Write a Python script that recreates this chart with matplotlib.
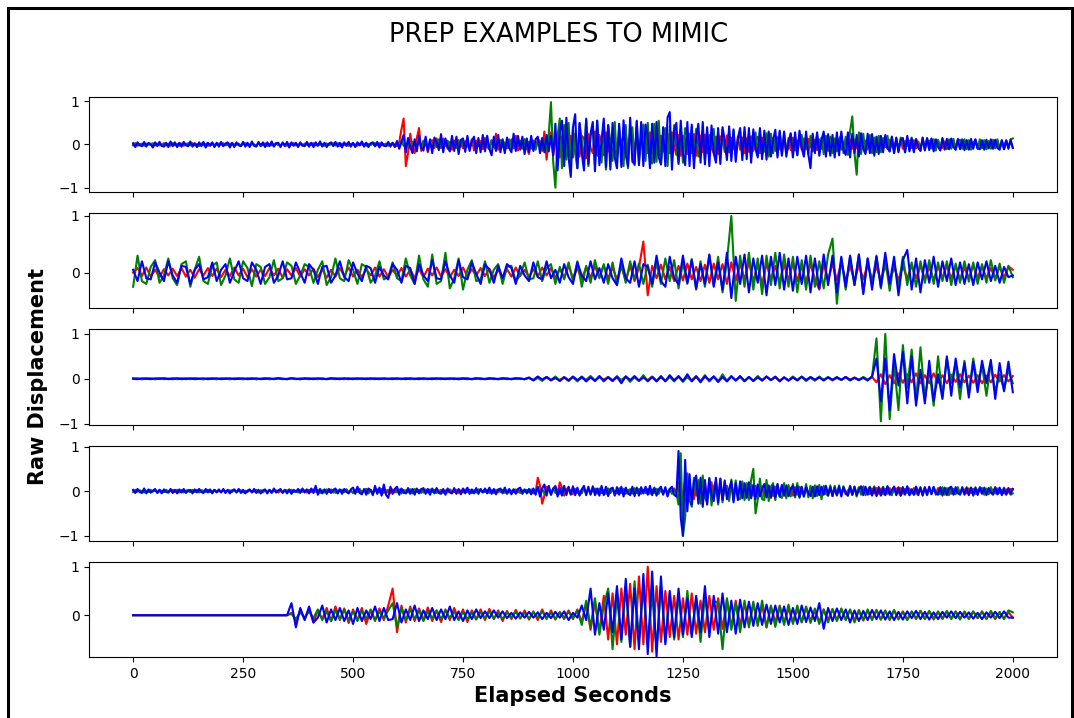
import numpy as np
import matplotlib
matplotlib.use("Agg")
import matplotlib.pyplot as plt
from matplotlib.patches import Rectangle

title = "PREP EXAMPLES TO MIMIC"
xlabel = "Elapsed Seconds"
ylabel = "Raw Displacement"
colors = ["red", "green", "blue"]
xticks = [0, 250, 500, 750, 1000, 1250, 1500, 1750, 2000]
# sampling interval (s) of each panel's readings
steps = [5, 10, 10, 5, 10]

# values in hundredths of displacement units, 0..2000 s
r1 = """0 2 -3 1 -1 3 -2 0 2 -3 1 2 -2 -1 3 -2 1 -3 2 0
-2 3 1 -3 2 -1 0 3 -2 1 -3 2 2 -1 -3 1 3 -2 0 2
-1 3 -2 -1 2 1 -3 2 0 -2 3 -1 2 -3 1 0 -2 3 -1 2
2 -3 1 -2 0 3 -1 -2 2 1 -3 2 -1 3 -2 0 1 -3 2 -1
-2 1 3 -2 -1 2 -3 1 2 -1 0 3 -2 1 -3 2 -1 2 -3 1
2 -1 -3 2 1 -2 3 -1 0 2 -3 1 3 -2 -1 2 -3 1 2 -4
-3 5 35 60 -50 -20 25 -10 -20 15 38 -15 5 12 -18 8 10 -8 14 -6
-8 14 3 -10 6 -12 9 2 -7 11 -9 8 -3 -10 12 -14 9 -4 8 -11
15 -6 -11 10 -5 25 -12 8 10 -15 6 -8 12 -9 20 -14 5 -10 12 -8
-22 14 -5 -9 12 8 -15 30 -35 12 28 -25 10 22 -30 18 -12 25 -28 20
-30 25 -10 -28 20 15 -32 24 -8 -20 30 -26 22 5 -25 28 -12 -22 30 -15
-24 20 8 -28 26 -20 12 24 -26 22 -30 18 -10 25 -20 28 -24 -8 22 -26
20 -12 -22 25 -20 28 -6 -24 22 -26 20 10 -22 25 -20 24 -26 8 21 -18
23 -20 22 -8 -20 18 -22 19 12 -17 21 -18 16 -5 -20 18 -12 16 -20 14
-17 19 -15 8 18 -20 16 -14 18 -6 -16 15 -15 17 -10 -14 16 -18 15 -13
16 -14 6 15 -12 14 -11 13 -4 -12 11 -13 12 -10 12 8 -11 12 -10 13
-11 10 -12 4 11 -10 12 -10 11 -9 12 -5 -10 9 -11 10 -9 11 -3 -8
10 -9 8 -10 11 -4 -9 10 -8 9 -10 8 -3 9 -8 10 -9 7 -8 9
-8 7 9 -9 8 -7 9 -3 -8 7 -9 8 -7 10 -8 6 -9 8 -7 9
-8 7 -5 8 -9 7 -6 8 -7 5 -8 9 -6 7 -8 6 -7 8 -5 7
-8"""
g1 = """-2 3 -1 0 2 -3 2 1 -1 3 -2 0 1 -3 2 -2 2 -1 3 -2
1 -3 2 0 -1 3 -2 2 1 -1 -3 2 -2 1 3 -2 0 -1 2 1
3 -2 1 -1 -3 2 0 -1 2 -3 1 3 -2 0 2 -1 -3 2 1 -2
2 -3 0 1 -2 3 -1 -2 2 0 1 -3 2 -1 2 -2 1 0 -3 2
2 -1 -2 3 -2 0 1 -3 2 -1 2 1 -2 3 -1 -2 2 -3 1 0
1 -2 3 -1 0 2 -3 1 -1 2 3 -2 -1 2 1 -3 2 -1 3 -1
2 -6 8 -3 -5 7 -9 6 2 -4 8 -6 9 -2 -7 5 -10 8 -6 12
-8 6 -3 9 -7 12 -6 -8 10 -5 7 -11 9 -6 3 8 -10 7 -9 12
-8 6 -10 9 -4 -12 8 10 -7 5 -9 12 -6 8 -10 4 9 -8 12 -10
6 -10 9 -12 8 4 -9 10 -15 25 98 -40 -100 20 60 -55 45 -35 50 -45
38 -20 -55 48 10 -40 60 -50 20 42 -48 55 -15 -42 50 -58 44 8 -38 52
-46 40 -20 -50 45 -55 30 40 -48 52 -42 10 46 -38 50 -25 -44 48 -40 55
-46 20 38 -50 42 -36 45 -10 -40 35 -42 38 20 -30 40 -34 36 -28 -10 32
-35 30 -28 15 36 -32 26 -30 34 -12 -25 30 -28 32 -26 10 30 -24 28 -22
25 -30 8 28 -26 30 -22 -15 26 -28 25 -20 12 -24 28 -22 26 -18 -8 24
-22 20 -24 12 22 -20 18 -22 20 -16 -6 22 -18 16 -22 20 -15 18 -20 14
-16 12 22 -20 18 -24 30 65 -20 -70 28 -22 25 -18 -6 22 -20 16 -18 20
-18 15 -6 20 -16 18 -20 14 -15 16 8 -18 14 -12 16 -15 13 -4 -14 15
-12 14 -13 10 12 -14 11 -12 13 -5 -11 12 -10 13 -12 9 11 -10 12 -11
10 -12 4 11 -10 12 -9 10 -11 8 -10 11 -9 12 -10 9 -11 10 -8 12
14"""
b1 = """3 -6 5 -2 -4 6 -5 4 0 -7 5 -4 6 -3 -5 4 -6 7 -4 5
-6 4 -5 6 -2 -4 7 -5 3 -6 5 -4 6 -7 4 -3 5 -6 4 -5
6 -4 2 5 -7 4 -6 5 -2 -4 6 -5 4 -6 7 -3 -5 6 -4 5
-6 5 -4 7 -5 2 4 -6 5 -4 6 -7 5 -3 4 -6 5 -2 -4 6
-5 4 -6 5 -3 7 -5 4 -6 2 5 -4 6 -5 4 -7 5 -3 6 -5
4 -6 5 -2 7 -5 4 -6 3 5 -4 6 -7 5 -3 -4 6 -5 4 -6
8 -10 6 22 -18 15 -5 -20 12 -16 20 -8 -14 18 -15 12 -20 16 5 -13
24 -18 14 -6 -16 20 -15 18 -22 10 14 -17 20 -15 8 18 -20 15 -18 22
-16 20 -10 -25 18 -15 22 -18 12 -20 16 -8 -18 25 -15 20 -12 18 -22 14
-17 20 -15 12 18 -20 15 -18 22 -16 20 -25 48 -60 30 55 -50 62 -30 -75
40 70 -55 50 -20 -60 58 -45 25 52 -62 55 -48 10 60 -52 45 -58 50 -30
-55 48 -52 56 -25 -50 62 -40 -45 55 -48 52 -50 46 20 -55 48 -42 52 -30
-46 40 -50 62 75 -58 30 50 -45 55 -20 -48 52 -50 46 -55 15 48 -42 52
-46 40 -50 44 -20 -42 38 -45 40 10 -36 42 -38 35 -40 15 38 -36 40 -34
38 -42 35 -10 -30 38 -34 32 -35 30 -28 10 34 -30 32 -26 30 -28 5 26
-30 28 -25 32 -8 -28 30 -22 -55 25 -20 28 -26 10 30 -28 24 -26 22 -30
28 -25 30 -12 -24 28 -30 25 -20 22 -28 26 -10 -22 25 -20 24 -26 18 -22
20 -18 22 -8 -16 18 -20 16 -18 10 15 -18 20 -16 14 -18 12 -8 -15 16
-14 15 -12 14 -16 12 -5 -14 15 -12 13 -11 14 -6 -12 13 -11 12 -13 10
-12 13 -10 12 -9 -11 10 -12 11 -9 12 -10 11 -8 -12 10 -11 9 -10 11
-8"""

r2 = """0 8 -6 9 -7 5 -8 6 -5 7  -6 8 -7 5 -9 6 -5 8 -6 7  -8 5 -6 9 -5 7 -8 6 -7 5
-6 8 -5 7 -9 6 -5 8 -7 6  -5 7 -8 6 -9 5 -7 8 -6 9  -7 5 -8 6 -5 9 -7 6 -8 5
-6 8 -7 5 -9 6 -8 7 -5 9  -7 6 -8 5 -6 9 -7 6 -5 8  -6 7 -9 5 -8 6 -7 9 -6 5
-8 6 -7 9 -5 8 -10 7 -9 12  -10 8 -12 10 -9 11 -8 12 -10 9  -12 10 -14 12 -15 9 55 -40 12 -10
14 -12 10 -15 12 -14 16 -12 10 -15  14 -18 16 -12 15 -20 18 -14 16 -12  18 -15 14 -20 16 -13 12 -18 15 -14
17 -15 13 -18 16 -12 -30 15 -14 16  -13 18 -15 12 -16 14 -12 15 -13 11  -14 12 -15 10 -13 12 -11 14 -10 12
-12 10 -13 11 -9 12 -10 11 -12 9  -10 12 -9 11 -10 8 -11 10 -9 11  5"""
g2 = """-25 30 -15 -20 10 22 -18 -5 25 -10  -22 15 20 -25 5 28 -15 -20 12 18  -22 -5 25 -12 -18 20 8 -24 15 10
-20 -8 22 -15 -10 18 12 -20 -5 15  10 -18 5 20 -22 -8 25 -10 -15 22  5 -20 15 10 -18 -6 20 -12 -8 18
-10 -15 25 -5 -20 30 -12 -25 32 -20  -15 35 -28 -10 25 -30 5 22 -15 -12  20 -18 5 15 -20 10 12 -15 -5 18
-12 -10 20 -15 8 15 -20 10 -12 18  -15 20 -25 12 -18 22 -10 15 -20 18  -22 15 -18 20 -12 16 -20 14 -25 18
-20 25 -15 22 -28 18 -20 24 -30 20  -25 30 -22 28 -35 20 100 -50 30 -25  35 -30 25 -38 30 -22 35 -28 32 -25
28 -35 22 -30 30 -25 20 -28 32 60  -55 25 -30 28 -22 32 -35 25 -20 30  -28 25 -32 20 -25 28 -22 18 -25 20
-18 22 -20 18 -15 20 -22 16 -18 20  -16 18 -20 15 -18 22 -14 16 -18 12  -8"""
b2 = """5 -15 20 -10 -12 18 0 -15 20 -5  -18 12 10 -20 5 15 -12 -8 18 -15  5 15 -18 2 20 -10 -15 18 5 -20
10 15 -18 -5 20 -12 -10 18 0 -18  15 5 -20 10 12 -18 -5 20 -8 -15  18 -2 -15 12 8 -18 10 -5 -12 15
5 -18 12 8 -20 15 -5 -15 22 -10  -12 20 -5 -18 22 -8 -12 18 -2 -20  15 5 -18 12 -10 15 8 -20 12 -5
-15 18 -8 -12 20 -10 5 -18 15 -8  -20 18 -5 -15 20 -12 8 -18 15 -10  -22 25 -10 -18 20 -25 15 10 -20 30
-15 -25 28 -10 -20 30 -18 22 -28 15  -20 32 -25 18 -30 35 -45 28 -20 32  -35 25 -18 30 -40 28 -22 35 -30 25
-32 28 -20 30 -35 25 -28 32 -22 30  -35 28 -25 30 -22 32 -38 25 -30 28  -25 35 -20 28 -40 22 40 -30 25 -35
22 -18 28 -25 20 -15 25 -22 18 -20  15 -22 18 -12 20 -15 12 -18 10 -8  -5"""

r3 = """0 1 -1 0 1 -1 0 1 0 -1  0 1 -1 0 1 0 -1 1 0 -1  1 0 -1 1 0 -1 0 1 -1 0
1 -1 0 1 0 -1 1 0 -1 0  1 0 -1 1 -1 0 1 0 -1 1  0 -1 1 0 -1 1 0 -1 0 1
-1 0 1 -1 0 1 0 -1 1 0  -1 1 0 -1 1 0 -1 0 1 -1  0 1 -1 0 1 -1 0 1 0 -1
2 -3 4 -2 3 -4 2 -3 4 -3  3 -4 2 -3 5 -4 3 -2 4 -3  4 -3 5 -4 3 -5 4 -3 5 -4
3 -4 5 -3 4 -5 3 -4 6 -5  4 -3 5 -4 3 -4 5 -3 4 -5  3 -4 5 -3 4 -3 5 -4 3 -4
3 -2 4 -3 2 -4 3 -2 3 -4  2 -3 4 -2 3 -2 3 -2 4 -8  10 -12 8 -10 12 -9 10 -8 12 -10
8 -10 12 -9 8 -10 9 -7 10 -8  7 -9 8 -10 7 -8 9 -6 8 -6  6"""
g3 = """1 0 -1 1 0 -1 1 -1 0 1  -1 0 1 -1 1 0 -1 0 1 -1  0 1 -1 0 1 -1 1 0 -1 0
1 -1 0 1 -1 0 1 -1 1 0  -1 1 0 -1 0 1 -1 1 0 -1  1 0 -1 1 0 -1 1 0 -1 1
0 -1 1 0 -1 1 -1 0 1 -1  1 0 -1 1 -1 0 1 -1 0 1  -1 0 1 -1 0 1 -1 0 1 -1
3 -4 2 -5 4 -3 5 -4 3 -5  4 -6 5 -3 6 -4 5 -6 4 -5  6 -4 5 -7 4 -5 8 -6 4 -5
6 -5 4 -6 5 -7 6 -4 5 -6  8 -6 5 -7 10 -5 6 -4 5 -6  4 -5 6 -4 5 -3 4 -5 3 -4
5 -3 4 -5 3 -4 5 -3 4 -3  4 -3 3 -4 2 -3 4 -3 5 90  -95 100 -90 35 -70 75 -20 65 -50 70
-45 20 -60 50 -40 45 -10 35 -45 40  -35 45 -15 30 -38 35 -30 10 -25 20  -10"""
b3 = """0 -1 1 0 -1 1 0 1 -1 0  1 -1 0 1 -1 0 1 -1 0 1  -1 0 1 -1 0 1 -1 0 1 -1
0 1 -1 1 0 -1 1 0 -1 1  0 -1 1 0 -1 1 0 -1 1 0  -1 1 0 -1 1 0 -1 1 0 -1
1 0 -1 1 0 -1 1 0 -1 1  0 -1 1 0 -1 1 0 -1 1 0  -1 1 0 -1 1 0 -1 1 0 -1
2 -3 5 -2 4 -3 2 -5 3 -4  5 -3 4 -6 3 -5 6 -4 3 -5  4 -10 5 -3 6 -4 3 -5 4 -6
5 -6 8 -4 6 -5 10 -6 5 -8  6 -4 5 -7 4 -6 5 -4 6 -5  4 -5 3 -4 5 -3 4 -6 3 -4
3 -4 5 -3 4 -2 3 -4 3 -2  3 -2 4 -3 2 -3 2 -4 5 45  -50 45 -70 55 -15 60 -55 50 -60 20
-55 40 -50 10 -45 50 -38 45 -20 35  -42 38 -30 40 -10 42 -45 35 -28 38  -30"""

r4 = """2 -3 1 0 -2 3 -1 2 -3 1 2 -2 3 -1 -2 2 -3 1 3 -2
1 -3 2 -1 0 3 -2 1 -2 3 -1 2 -3 1 2 -2 -1 3 -2 1
-2 3 -1 2 -3 0 1 -2 3 -1 2 -3 1 2 -2 -1 3 -2 1 -3
2 -1 3 -2 0 2 -3 1 -1 3 -2 2 -3 1 0 -2 3 -1 2 -3
3 -2 4 -1 -3 2 -4 3 1 -2 4 -3 2 -4 3 0 -2 4 -3 2
-4 3 -2 4 -3 1 5 -4 3 -5 2 4 -3 5 -4 1 3 -5 4 -3
4 -3 5 -4 2 -3 4 -5 3 1 -4 5 -3 4 -2 -3 4 -3 5 -4
3 -4 2 -3 4 0 -2 3 -4 2 -3 4 -2 3 -4 1 2 -3 4 -2
4 -3 1 2 -4 3 -2 4 -3 2 -4 3 0 -2 4 -3 2 -4 3 -2
3 -5 4 -3 30 12 -28 -10 10 5 -8 6 12 -6 20 8 -10 4 8 -6
-6 5 -3 -7 4 6 -6 5 -4 2 6 -5 4 -3 -5 4 6 -4 5 -3
-5 6 -4 2 5 -6 4 -5 6 -2 -4 5 -3 6 -5 4 -2 -4 5 -3
6 -5 4 -6 5 -2 6 -4 20 -30 -10 25 -20 15 -5 -18 20 -15 18 -22
16 -14 5 20 -18 15 -16 14 -18 6 12 -15 16 -12 14 -10 8 12 -14 10
-12 14 -10 12 -9 5 11 -13 10 -12 9 -11 10 -4 -8 12 -10 9 -11 8
-10 9 -8 10 -4 -7 9 -8 7 -9 8 -7 3 8 -7 9 -6 8 -7 6
-8 7 -6 8 -7 2 6 -8 7 -6 8 -5 7 -6 3 -7 6 -5 7 -6
6 -7 5 -6 7 -5 2 6 -5 7 -6 5 -4 6 -5 7 -6 3 5 -6
7 -5 6 -4 5 -6 7 -3 -5 6 -5 4 -6 5 -4 6 -5 2 4 -5
6 -4 5 -6 3 5 -5 4 -6 5 -3 4 -5 6 -4 3 -5 4 -3 5
4"""
g4 = """-2 3 -1 2 0 -3 1 -2 3 -1 2 -3 0 1 -2 3 -1 2 -3 1
3 -1 2 -3 1 0 -2 3 -1 2 -3 2 1 -2 3 -1 0 2 -3 1
-1 2 -3 1 2 -2 3 -1 0 2 -3 1 -2 3 -1 2 0 -3 2 -1
2 -3 1 -1 3 -2 2 0 -3 1 2 -1 3 -2 1 -3 2 -1 0 2
-3 4 -2 1 3 -4 2 -3 4 -1 -2 3 -4 2 0 3 -2 4 -3 1
-4 3 -2 5 -3 1 4 -5 3 -4 2 -2 3 -4 5 -1 -3 4 -2 3
-3 4 -5 3 -1 -2 4 -3 5 -2 3 -4 2 1 -3 4 -2 3 -4 2
-4 2 -3 4 0 -2 3 -4 2 -3 4 -1 -2 3 -4 2 -3 4 1 -2
-2 3 -4 2 -3 1 4 -2 3 -4 2 -3 0 4 -2 3 -4 2 -1 3
-3 4 -5 2 6 -4 5 -6 1 4 -5 6 -4 3 -6 5 2 -5 6 -4
5 -6 4 -2 -5 6 -4 5 -6 3 4 -5 6 -4 2 -6 5 -4 6 -3
-5 6 -4 5 -6 2 4 -5 6 -4 5 -6 3 -4 5 -6 4 -2 5 -6
4 -5 6 -4 5 -6 3 -4 -30 85 -100 -60 40 -20 -35 30 -10 25 -28 35
-15 -25 30 -32 10 22 -30 28 -25 20 -8 -22 26 -20 24 -15 -18 22 -20 18
-20 25 50 -50 -20 28 -18 -20 25 -22 10 18 -20 15 -12 -15 18 -16 14 -12
16 -14 18 -15 5 -12 16 -14 12 -16 13 -11 14 -18 12 -6 -10 13 -11 12
-10 13 -9 11 -4 -10 12 -8 10 -12 9 -8 11 -9 3 10 -8 11 -9 8
-9 10 -8 11 -5 -9 10 -7 9 -10 8 -6 10 -9 4 -8 10 -7 9 -8
7 -9 8 -6 10 -8 3 -7 9 -8 7 -9 8 -5 -7 9 -8 7 -6 9
-7 8 -6 9 -8 5 7 -8 6 -7 9 -6 8 -7 4 -6 8 -7 6 -8
-5"""
b4 = """3 -4 5 -2 -4 6 -5 4 -3 1 5 -4 3 -5 4 -2 -3 5 -4 3
-5 4 -3 5 -4 1 3 -5 4 -3 5 -2 -4 5 -3 4 -5 3 -2 4
-3 5 -4 3 -5 2 4 -3 5 -4 3 -5 1 4 -3 5 -4 3 -5 2
4 -5 3 -4 6 -3 1 5 -4 3 -5 4 -6 3 -2 5 -4 6 -3 4
-5 6 -4 12 -8 5 -5 4 -6 5 -4 3 6 -5 4 -6 5 -2 -5 4
8 -6 10 -4 -7 5 -8 6 2 -9 12 -6 8 -10 15 -8 -15 10 -6 5
10 -8 6 -3 -5 7 -6 5 -8 6 -5 4 7 -6 5 -8 6 -5 7 -4
-6 5 -8 6 -3 -5 7 -6 5 -7 6 -5 8 -6 4 -5 7 -6 5 -3
6 -5 8 -6 5 -7 3 6 -5 8 -6 5 -7 4 -6 5 8 -6 4 -5
5 -7 6 -8 10 -12 6 15 -10 12 -8 5 10 -12 8 -10 12 -9 10 -8
11 -9 8 -10 4 12 -9 10 -8 11 -9 6 -10 12 -9 10 -11 5 8 -10
9 -8 10 -12 8 -4 -9 10 -11 8 -10 9 -5 10 -8 12 -9 8 -10 4
10 -8 9 -12 5 10 -8 -12 90 -60 -100 70 -45 38 -30 20 35 -28 30 -35
25 -30 28 -8 -22 30 -25 28 -20 24 -18 5 22 -25 18 -20 22 -16 18 -15
20 -16 14 -18 15 -12 5 16 -14 13 -15 12 -14 16 -12 14 -10 13 -11 4
12 -10 11 -13 10 -12 9 -4 -11 10 -12 11 -9 10 -8 12 -10 9 -11 8
-9 10 -12 9 -4 -10 11 -8 10 -9 4 11 -9 10 -8 9 -10 8 -11 9
-10 8 -9 11 -8 3 10 -9 8 -10 9 -8 11 -9 4 -8 10 -9 8 -10
9 -8 10 -7 9 -4 -8 9 -10 8 -9 7 10 -8 9 -5 -7 9 -8 7
-9 8 -10 7 -8 9 -6 8 -9 7 -3 -8 9 -7 8 -9 6 -8 7 -6
5"""

r5 = """0 0 0 0 0 0 0 0 0 0  0 0 0 0 0 0 0 0 0 0  0 0 0 0 0 0 0 0 0 0
0 0 0 0 0 0 5 -12 10 -8  12 -15 10 -8 15 -12 18 -10 14 -16  12 -10 15 -18 10 -12 14 -10 20 55
-35 20 -15 18 -12 14 -10 16 -12 10  -14 12 -10 15 -9 12 -14 10 -8 12  -10 13 -8 10 -12 9 -8 11 -7 10
-9 8 -10 12 -8 10 -9 7 -8 10  -8 12 -15 25 -30 28 -35 40 -50 45  -60 55 -40 65 -70 80 -60 100 -75 60
-55 50 -45 40 -50 35 -40 45 -38 30  -35 40 -30 35 -28 32 -25 30 -22 25  -20 22 -18 20 -25 18 -15 20 -16 14
-15 12 -14 16 -12 10 -14 12 -10 12  -10 12 -9 11 -10 8 -11 9 -8 10  -9 8 -10 9 -7 8 -9 7 -8 9
-7 8 -9 6 -8 7 -6 8 -7 6  -8 7 -6 8 -7 6 -8 5 -7 6  -5"""
g5 = """0 0 0 0 0 0 0 0 0 0  0 0 0 0 0 0 0 0 0 0  0 0 0 0 0 0 0 0 0 0
0 0 0 0 0 0 3 -8 6 -5  8 -6 12 -10 8 -12 10 -8 12 -10  8 -12 10 -8 12 -10 8 -6 10 25
-25 15 -10 12 -8 10 -12 8 -6 10  -8 10 -6 8 -10 7 -8 6 -9 7  -6 8 -7 5 -8 6 -5 7 -6 5
-7 6 -5 8 -6 5 -7 6 -5 7  -6 10 -20 30 -25 35 -40 20 55 -70  40 -55 60 -65 70 -50 55 -60 45 -70
60 -55 45 -50 40 -45 50 -40 35 -55  40 -35 30 25 -70 35 -30 25 -35 30  -25 28 -22 30 -25 20 -24 18 -20 22
-18 20 -15 18 -16 14 -18 12 -15 13  -12 14 -10 12 -15 11 -9 12 -10 11  -9 10 -8 11 -9 7 -10 8 -7 9
-8 9 -7 8 -6 9 -8 7 -9 8  -7 8 -6 7 -8 9 -6 7 -8 10  6"""
b5 = """0 0 0 0 0 0 0 0 0 0  0 0 0 0 0 0 0 0 0 0  0 0 0 0 0 0 0 0 0 0
0 0 0 0 0 0 25 -25 15 -10  18 -15 -5 20 -15 12 -10 15 -12 10  -18 15 -12 10 -8 18 -12 15 -10 -8
25 -15 12 -10 20 -12 10 -8 15 -10  12 -8 18 -10 8 -12 10 -8 12 -6  8 -6 10 -5 8 -6 5 -7 6 -5
7 -5 6 -8 5 -6 7 -5 8 -10  5 -5 20 -10 55 -40 25 -30 45 -35  60 -50 75 -65 55 -70 85 -80 90 -85
80 -60 50 -45 55 -40 35 -45 40 -35  60 -45 40 -38 45 -35 30 -38 32 -25  28 -22 25 -20 22 -18 20 -15 18 -20
15 -18 20 -14 16 -12 25 -28 15 -12  14 -10 12 -15 10 -12 9 -10 11 -8  10 -9 8 -10 7 -9 8 -6 9 -8
7 -9 6 -8 7 -5 8 -6 7 -5  6 -7 5 -8 6 -5 7 -6 8 -5  -5"""

panels = [(r1, g1, b1), (r2, g2, b2), (r3, g3, b3), (r4, g4, b4), (r5, g5, b5)]
ylims = [(-1.1, 1.1), (-0.63, 1.05), (-1.02, 1.1), (-1.11, 1.02), (-0.86, 1.1)]


def parse(s):
    return np.array(s.split(), dtype=float) / 100.0


fig, axes = plt.subplots(5, 1, figsize=(10.74, 7.18), dpi=100, sharex=True)
fig.subplots_adjust(left=0.083, right=0.984, top=0.865, bottom=0.085, hspace=0.222)

for ax, traces, yl, st in zip(axes, panels, ylims, steps):
    for s, c in zip(traces, colors):
        v = parse(s)
        assert len(v) == 2000 // st + 1, (c, len(v))
        t = np.arange(len(v)) * st
        ax.plot(t, v, color=c, linewidth=1.5)
    ax.set_yticks([-1, 0, 1])
    ax.set_ylim(*yl)
    ax.set_xlim(-100, 2100)

axes[-1].set_xticks(xticks)
axes[-1].set_xlabel(xlabel, fontsize=15, fontweight="bold")
fig.text(0.035, 0.475, ylabel, rotation=90, fontsize=15, fontweight="bold",
         ha="center", va="center")
fig.suptitle(title, fontsize=18.5, x=0.52, y=0.951, va="center")

frame = Rectangle((8 / 1074, -0.1), (1072 - 8) / 1074, 1.1 - 8 / 718,
                  transform=fig.transFigure, fill=False, edgecolor="black",
                  linewidth=2.2, clip_on=False)
fig.patches.append(frame)

fig.savefig("out.png", dpi=100)
